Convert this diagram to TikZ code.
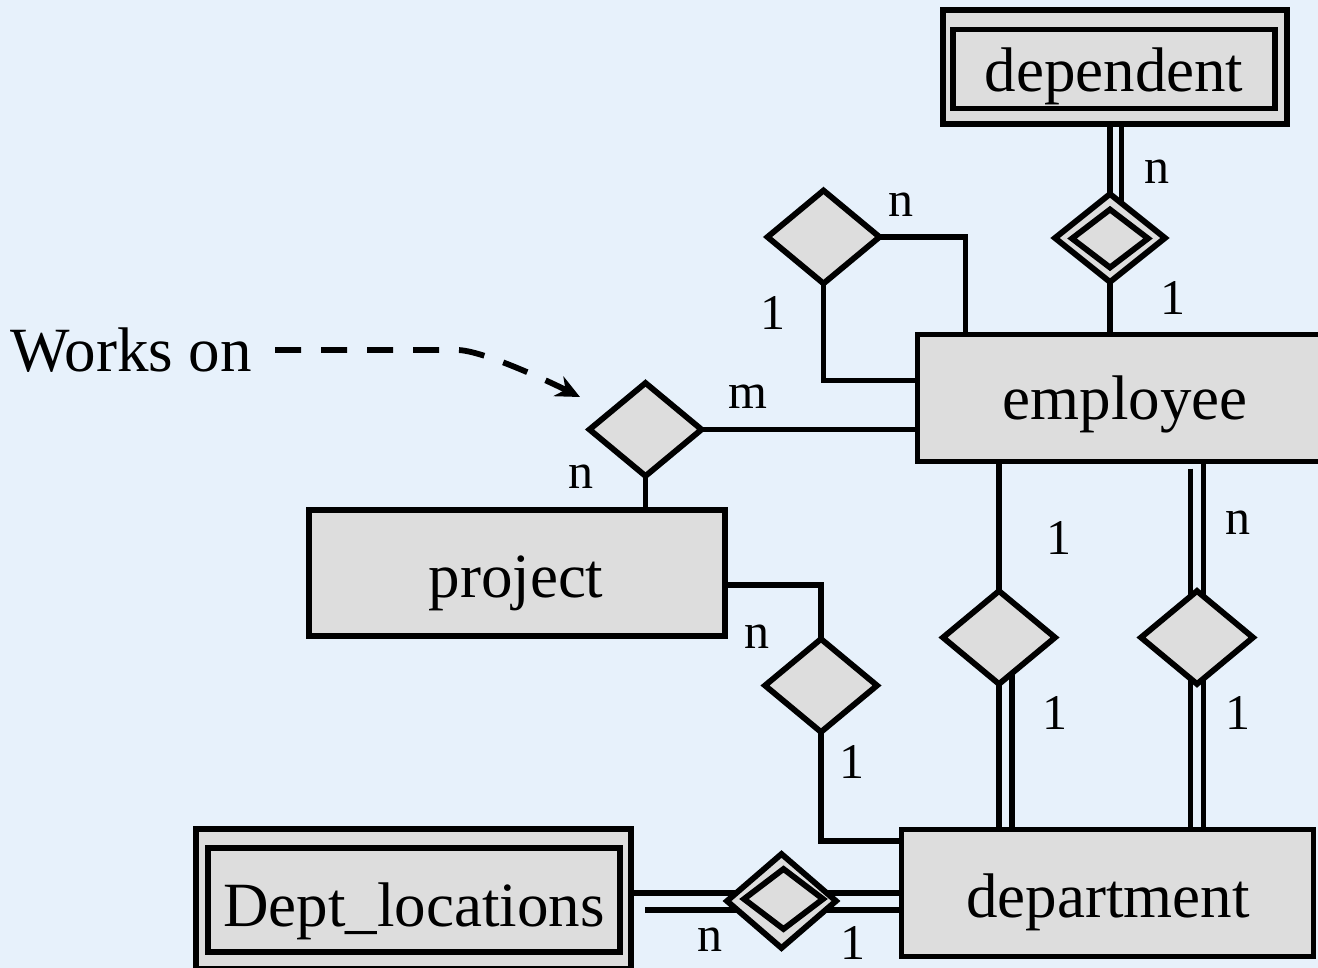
\documentclass[tikz,border=0pt]{standalone}
\usepackage{fontspec}
\setmainfont{Liberation Serif}
\usetikzlibrary{shapes.geometric,calc,arrows.meta}
\pgfdeclarelayer{bg}
\pgfsetlayers{bg,main}
\definecolor{bgblue}{RGB}{231,241,251}
\definecolor{boxgray}{RGB}{221,221,221}
\tikzset{
  conn/.style={line width=5.8pt},
  entity/.style={draw, fill=boxgray, line width=5.8pt, rectangle, inner sep=0pt, outer sep=0pt},
  innerbox/.style={draw, line width=5.8pt, rectangle, inner sep=0pt, outer sep=0pt},
  rel/.style={draw, fill=boxgray, line width=5.8pt, diamond, inner sep=0pt, outer sep=0pt, minimum width=112pt, minimum height=93pt},
  innerrel/.style={draw, line width=5.8pt, diamond, inner sep=0pt, outer sep=0pt},
  etext/.style={font=\fontsize{63}{70}\selectfont, anchor=base, inner sep=0pt},
  card/.style={font=\fontsize{50}{56}\selectfont, inner sep=0pt},
  dasharrow/.style={line width=5.8pt, dash pattern=on 26pt off 20pt, -{Stealth[length=24pt,width=22pt]}},
}
\begin{document}
\begin{tikzpicture}[x=1pt,y=-1pt]
\useasboundingbox (0,0) rectangle (1318,968);
\begin{pgfonlayer}{bg}
  \fill[bgblue] (0,0) rectangle (1318,968);
\end{pgfonlayer}

% entities
\node[entity, minimum width=344.5pt, minimum height=114pt] (dep) at (1115,67) {};
\node[innerbox, minimum width=321.5pt, minimum height=79pt] (depin) at (1114,69) {};
\node[etext] (deptxt) at (1114,92) {dependent};

\node[entity, minimum width=417pt, minimum height=127pt] (emp) at (1126,398) {};
\node[etext] (emptxt) at (1125,420) {employee};

\node[entity, minimum width=416pt, minimum height=126pt] (proj) at (517,573) {};
\node[etext] (projtxt) at (516,597) {project};

\node[entity, minimum width=412pt, minimum height=127pt] (dept) at (1107.5,893) {};
\node[etext] (depttxt) at (1108,917) {department};

\node[entity, minimum width=435pt, minimum height=140pt] (dlo) at (413.5,899) {};
\node[innerbox, minimum width=411.5pt, minimum height=104.5pt] (dloin) at (414,900) {};
\node[etext] (dlotxt) at (414,926) {Dept\_locations};

\node[etext] (works) at (131,372) {Works on};

% relationships
\node[rel] (sr) at (823.5,237) {};
\node[rel] (wo) at (645.5,429.5) {};
\node[rel] (pd) at (821,685.5) {};
\node[rel] (ed1) at (999,637.5) {};
\node[rel] (ed2) at (1197,637.5) {};
\node[rel, minimum width=110pt, minimum height=88pt] (dd) at (1110,238) {};
\node[innerrel, minimum width=76pt, minimum height=58pt] (ddin) at (1110,238.5) {};
\node[rel, minimum width=109pt, minimum height=94pt] (dl) at (781.5,901) {};
\node[innerrel, minimum width=79pt, minimum height=60pt] (dlin) at (783.5,899) {};

% connectors
\begin{pgfonlayer}{bg}
  \draw[conn] (dd.center |- dep.south) -- (dd.center);
  \draw[conn] ($(dd.center |- dep.south)+(11.5,0)$) -- ($(dd.center)+(11.5,0)$);
  \draw[conn] (dd.south) -- (dd.south |- emp.north);
  \draw[conn] (sr.east) -| ($(emp.north west)+(48,0)$);
  \draw[conn] (sr.south) |- ($(emp.north west)+(0,46)$);
  \draw[conn] (wo.east) -- (wo.east -| emp.west);
  \draw[conn] (wo.south) -- (wo.south |- proj.north);
  \draw[conn] ($(proj.north east)+(0,75)$) -| (pd.north);
  \draw[conn] (pd.south) |- ($(dept.north west)+(0,11.5)$);
  \draw[conn] (ed1.north |- emp.south) -- (ed1.north);
  \draw[conn] (ed1.center) -- (ed1.center |- dept.north);
  \draw[conn] ($(ed1.center)+(13,0)$) -- ($(ed1.center |- dept.north)+(13,0)$);
  \draw[conn] ($(ed2.center |- emp.south)+(-6.5,7)$) -- ($(ed2.center)+(-6.5,0)$);
  \draw[conn] ($(ed2.center |- emp.south)+(6.5,0)$) -- ($(ed2.center)+(6.5,0)$);
  \draw[conn] ($(ed2.center)+(-6.5,0)$) -- ($(ed2.center |- dept.north)+(-6.5,0)$);
  \draw[conn] ($(ed2.center)+(6.5,0)$) -- ($(ed2.center |- dept.north)+(6.5,0)$);
  \draw[conn] ($(dl.center -| dlo.east)+(0,-8)$) -- ($(dl.center -| dept.west)+(0,-8)$);
  \draw[conn] ($(dl.center -| dlo.east)+(14,9)$) -- ($(dl.center -| dept.west)+(0,9)$);
\end{pgfonlayer}

% dashed pointer
\coordinate (wstart) at (275,350);
\coordinate (wtip) at (580,397);
\draw[dasharrow] (wstart) -- ++(182,0) .. controls +(25,0) and +(-30,-15) .. (wtip);

% cardinalities
\node[card] (c1) at (1157,172) {n};
\node[card] (c2) at (1173,298) {1};
\node[card] (c3) at (901,205) {n};
\node[card] (c4) at (773,313) {1};
\node[card] (c5) at (748,397) {m};
\node[card] (c6) at (581,477) {n};
\node[card] (c7) at (1059,538) {1};
\node[card] (c8) at (1238,523) {n};
\node[card] (c9) at (757,637) {n};
\node[card] (c10) at (1055,713) {1};
\node[card] (c11) at (1238,713) {1};
\node[card] (c12) at (852,762) {1};
\node[card] (c13) at (710,940) {n};
\node[card] (c14) at (853,943) {1};
\end{tikzpicture}
\end{document}
